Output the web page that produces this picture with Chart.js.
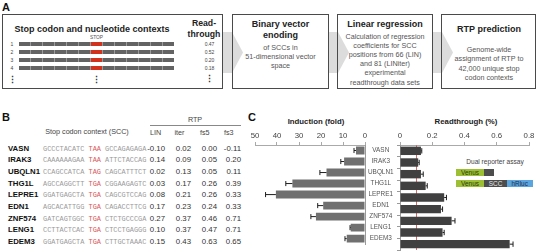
<!DOCTYPE html>
<html>
<head>
<meta charset="utf-8">
<script src="https://cdn.jsdelivr.net/npm/chart.js@4.4.1/dist/chart.umd.min.js"></script>
<style>
  html, body { margin:0; padding:0; background:#fff; }
  #fig { position:relative; width:538px; height:251px; overflow:hidden; font-family:"Liberation Sans", Arial, sans-serif; color:#222; }
  .t { position:absolute; white-space:nowrap; line-height:1; }
  .box { position:absolute; border:1px solid #4a4a4a; box-sizing:border-box; background:transparent; }
  .arrow { position:absolute; background:#dcdcdc; }
  canvas { position:absolute; }
</style>
</head>
<body>
<div id="fig"></div>
<script>
// ---------------- DATA ----------------
const genes = ['VASN','IRAK3','UBQLN1','THG1L','LEPRE1','EDN1','ZNF574','LENG1','EDEM3'];
const sccLeft  = ['GCCCTACATC','CAAAAAAGAA','CCAGCCATCA','AGCCAGGCTT','GGATGAGCTA','AGCACATTGG','GATCAGTGGC','CCTTACTCAC','GGATGAGCTA'];
const stopCodons = ['TAA','TAA','TAG','TGA','TGA','TGA','TGA','TGA','TGA'];
const sccRight = ['GCCAGAGAGA','ATTCTACCAG','CAGCATTTCT','CGGAAGAGTC','CAGCGTCCAG','CAGACCTTCG','CTCTGCCCGA','CTCCTGAGGG','CTTGCTAAAC'];
const rtpLIN  = [-0.10, 0.14, 0.02, 0.03, 0.08, 0.17, 0.27, 0.10, 0.15];
const rtpIter = [ 0.02, 0.09, 0.13, 0.17, 0.21, 0.23, 0.37, 0.37, 0.43];
const rtpFs5  = [ 0.00, 0.05, 0.05, 0.26, 0.26, 0.24, 0.46, 0.47, 0.63];
const rtpFs3  = [-0.11, 0.20, 0.11, 0.39, 0.33, 0.33, 0.71, 0.71, 0.65];
const rtpColumns = ['LIN','iter','fs5','fs3'];

const inductionFold = [4.1, 9.5, 17.5, 33.0, 40.5, 19.0, 22.3, 6.5, 8.3];
const inductionErr  = [0.9, 1.5, 3.0, 3.0, 4.7, 2.5, 2.3, 0.3, 0.8];
const readthroughPct = [0.130, 0.113, 0.130, 0.159, 0.274, 0.254, 0.320, 0.264, 0.680];
const readthroughErr = [0.005, 0.006, 0.014, 0.010, 0.014, 0.010, 0.021, 0.010, 0.021];
const inductionTicks = [0, 10, 20, 30, 40, 50];
const readthroughTicks = [0, 0.2, 0.4, 0.6, 0.8];
const readthroughReference = 0.1;

const exampleReadthrough = ['0.47','0.52','0.20','0.18'];
const contextSegments = 13, stopSegment = 6;

// ---------------- helpers ----------------
const fig = document.getElementById('fig');
function txt(x, y, s, o = {}) {
  const d = document.createElement('div');
  d.className = 't';
  d.textContent = s;
  const a = o.align || 'center';
  const tx = a === 'center' ? '-50%' : (a === 'right' ? '-100%' : '0');
  d.style.left = x + 'px'; d.style.top = y + 'px';
  d.style.transform = `translate(${tx},-50%)`;
  d.style.fontSize = (o.size || 7.3) + 'px';
  if (o.bold) d.style.fontWeight = 'bold';
  d.style.color = o.color || '#222';
  if (o.font) d.style.fontFamily = o.font;
  fig.appendChild(d);
  return d;
}
function rect(cls, x, y, w, h, style = {}) {
  const d = document.createElement('div');
  d.className = cls;
  Object.assign(d.style, { left: x + 'px', top: y + 'px', width: w + 'px', height: h + 'px' }, style);
  fig.appendChild(d);
  return d;
}

// ---------------- Panel A ----------------
[[222, 243], [328, 349], [432, 453]].forEach(([x0, x1]) => {
  rect('arrow', x0, 32, x1 - x0, 41, { clipPath: `polygon(0 0, ${x1 - x0 - 11}px 0, 100% 50%, ${x1 - x0 - 11}px 100%, 0 100%)` });
});
rect('box', 2, 14, 221, 75);
rect('box', 232, 14, 97, 75);
rect('box', 337, 14, 96, 75);
rect('box', 441, 14, 95, 75);

txt(2, 7, 'A', { align: 'left', size: 11, bold: true, color: '#111' });
txt(92, 29, 'Stop codon and nucleotide contexts', { size: 9, bold: true });
txt(96.5, 38, 'STOP', { size: 4.8, color: '#555' });
exampleReadthrough.forEach((v, i) => {
  const y = 44 + i * 8;
  txt(12, y, String(i + 1), { size: 5, color: '#444' });
  const bar = document.createElement('div');
  Object.assign(bar.style, { position: 'absolute', left: '19px', top: (y - 2.2) + 'px', width: '155px', height: '4.5px', display: 'flex', gap: '1px', background: '#9a9a9a' });
  for (let s = 0; s < contextSegments; s++) {
    const seg = document.createElement('div');
    seg.style.flex = '1';
    seg.style.background = s === stopSegment ? '#d0321e' : '#636363';
    bar.appendChild(seg);
  }
  fig.appendChild(bar);
  txt(209.5, y - 0.5, v, { size: 5, color: '#444' });
});
txt(12, 80, '⋮', { size: 9, bold: true, color: '#333' });
txt(96.5, 80, '⋮', { size: 9, bold: true, color: '#333' });
txt(209.5, 79, '⋮', { size: 9, bold: true, color: '#333' });
txt(204, 23, 'Read-', { size: 8.7, bold: true });
txt(204, 33.5, 'through', { size: 8.7, bold: true });

txt(280.5, 23.5, 'Binary vector', { size: 9, bold: true });
txt(280.5, 34.5, 'enoding', { size: 9, bold: true });
['of SCCs in', '51-dimensional vector', 'space'].forEach((s, i) => txt(280.5, 48 + i * 9.2, s, { size: 7.2, color: '#555' }));

txt(385, 24, 'Linear regression', { size: 9, bold: true });
['Calculation of regression', 'coefficients for SCC', 'positions from 66 (LIN)', 'and 81 (LINiter)', 'experimental', 'readthrough data sets']
  .forEach((s, i) => txt(385, 36.5 + i * 9.2, s, { size: 7.2, color: '#555' }));

txt(489, 29, 'RTP prediction', { size: 9, bold: true });
['Genome-wide', 'assignment of RTP to', '42,000 unique stop', 'codon contexts']
  .forEach((s, i) => txt(489, 50 + i * 9.4, s, { size: 7.2, color: '#555' }));

// ---------------- Panel B ----------------
txt(2, 117, 'B', { align: 'left', size: 11, bold: true, color: '#111' });
txt(87, 132, 'Stop codon context (SCC)', { size: 7.2, color: '#444' });
txt(195, 119.5, 'RTP', { size: 7.2, color: '#444' });
rect('t', 150, 124.5, 91, 0, { borderTop: '1px solid #888' });
const headerX = [150, 174.5, 200, 224];
rtpColumns.forEach((c, i) => txt(headerX[i], 132.5, c, { align: 'left', size: 7.2, color: '#444' }));
const colRight = [165, 191, 217, 241];
const rtpData = [rtpLIN, rtpIter, rtpFs5, rtpFs3];
genes.forEach((g, i) => {
  const y = 148.5 + i * 11.67;
  txt(8, y, g, { align: 'left', size: 7.8, bold: true, color: '#111' });
  const seq = document.createElement('div');
  seq.className = 't';
  Object.assign(seq.style, { left: '43px', top: y + 'px', transform: 'translate(0,-50%)', fontSize: '6.9px', fontFamily: '"Liberation Mono", monospace', color: '#9a9a9a' });
  seq.innerHTML = `${sccLeft[i]} <span style="color:#d8575a">${stopCodons[i]}</span> ${sccRight[i]}`;
  fig.appendChild(seq);
  rtpData.forEach((arr, k) => txt(colRight[k], y, arr[i].toFixed(2), { align: 'right', size: 7.8, color: '#333' }));
});

// ---------------- Panel C ----------------
txt(248, 117, 'C', { align: 'left', size: 11, bold: true, color: '#111' });
txt(316, 122, 'Induction (fold)', { size: 7.8, bold: true });
txt(466, 122, 'Readthrough (%)', { size: 7.8, bold: true });

txt(495, 162, 'Dual reporter assay', { size: 6.6, color: '#444' });
rect('t', 456, 169, 28, 7, { background: '#9cbf33' });
rect('t', 484, 169, 10, 7, { background: '#4d4d4d' });
txt(470, 172.5, 'Venus', { size: 6.4, color: '#2b3a10' });
rect('t', 456, 180, 28, 7.3, { background: '#9cbf33' });
rect('t', 484, 180, 23, 7.3, { background: '#4d4d4d' });
rect('t', 507, 180, 25.5, 7.3, { background: '#5aa5e0' });
txt(470, 183.7, 'Venus', { size: 6.4, color: '#2b3a10' });
txt(495.5, 183.7, 'SCC', { size: 6.4, color: '#e8e8e8' });
txt(519.7, 183.7, 'hRluc', { size: 6.4, color: '#1d2f4a' });

Chart.defaults.font.family = '"Liberation Sans", Arial, sans-serif';

const errorBarPlugin = {
  id: 'errorBars',
  afterDatasetsDraw(chart) {
    const ctx = chart.ctx, xs = chart.scales.x;
    chart.data.datasets.forEach((ds, di) => {
      if (!ds.errors) return;
      const meta = chart.getDatasetMeta(di);
      meta.data.forEach((el, j) => {
        const v = ds.data[j], e = ds.errors[j];
        const x0 = xs.getPixelForValue(v), x1 = xs.getPixelForValue(v + e);
        const cap = el.height * 0.32;
        ctx.save();
        ctx.strokeStyle = '#1e1e1e';
        ctx.lineWidth = 1;
        ctx.beginPath();
        ctx.moveTo(x0, el.y); ctx.lineTo(x1, el.y);
        ctx.moveTo(x1, el.y - cap); ctx.lineTo(x1, el.y + cap);
        ctx.stroke();
        ctx.restore();
      });
    });
  }
};
const refLinePlugin = {
  id: 'refLine',
  beforeDatasetsDraw(chart, args, opts) {
    if (opts.value === undefined) return;
    const { ctx, chartArea } = chart;
    const x = Math.round(chart.scales.x.getPixelForValue(opts.value)) + 0.5;
    ctx.save();
    ctx.strokeStyle = '#d46a6a';
    ctx.lineWidth = 1;
    ctx.beginPath();
    ctx.moveTo(x, chartArea.top); ctx.lineTo(x, chartArea.bottom);
    ctx.stroke();
    ctx.restore();
  }
};

function makeCanvas(x, y, w, h) {
  const c = document.createElement('canvas');
  c.width = w; c.height = h;
  c.style.left = x + 'px'; c.style.top = y + 'px';
  c.style.width = w + 'px'; c.style.height = h + 'px';
  fig.appendChild(c);
  return c;
}

// left: induction
new Chart(makeCanvas(248, 115, 152, 136), {
  type: 'bar',
  data: { labels: genes, datasets: [{ data: inductionFold, errors: inductionErr, backgroundColor: '#707070', barPercentage: 0.72, categoryPercentage: 1 }] },
  options: {
    indexAxis: 'y', responsive: false, animation: false, devicePixelRatio: 1,
    layout: { padding: { left: 7, right: 0, top: 0, bottom: 1 } },
    plugins: { legend: { display: false }, tooltip: { enabled: false } },
    scales: {
      x: {
        position: 'top', reverse: true, min: 0, max: 50,
        afterBuildTicks: s => { s.ticks = inductionTicks.map(v => ({ value: v })); },
        grid: { drawOnChartArea: false, tickLength: 3, color: '#aaa' },
        border: { color: '#aaa' },
        ticks: { font: { size: 7.8 }, color: '#444', padding: 1 },
        afterFit: s => { s.height = 30; }
      },
      y: {
        position: 'right',
        grid: { display: false, drawTicks: false },
        border: { color: '#9a9a9a' },
        ticks: { font: { size: 6.4 }, color: '#555', crossAlign: 'center', padding: 3, autoSkip: false },
        afterFit: s => { s.width = 35; }
      }
    }
  },
  plugins: [errorBarPlugin]
});

// right: readthrough
new Chart(makeCanvas(392, 115, 146, 136), {
  type: 'bar',
  data: { labels: genes, datasets: [{ data: readthroughPct, errors: readthroughErr, backgroundColor: '#404040', barPercentage: 0.72, categoryPercentage: 1 }] },
  options: {
    indexAxis: 'y', responsive: false, animation: false, devicePixelRatio: 1,
    layout: { padding: { left: 0, right: 9, top: 0, bottom: 1 } },
    plugins: { legend: { display: false }, tooltip: { enabled: false }, refLine: { value: readthroughReference } },
    scales: {
      x: {
        position: 'top', min: 0, max: 0.8,
        afterBuildTicks: s => { s.ticks = readthroughTicks.map(v => ({ value: v })); },
        grid: { drawOnChartArea: false, tickLength: 3, color: '#aaa' },
        border: { color: '#aaa' },
        ticks: { font: { size: 7.8 }, color: '#444', padding: 1, callback: v => v === 0 ? '0' : v.toFixed(1) },
        afterFit: s => { s.height = 30; }
      },
      y: {
        position: 'left',
        grid: { drawOnChartArea: false, tickLength: 3, color: '#9a9a9a' },
        border: { color: '#9a9a9a' },
        ticks: { display: false, autoSkip: false },
        afterFit: s => { s.width = 8; }
      }
    }
  },
  plugins: [errorBarPlugin, refLinePlugin]
});
</script>
</body>
</html>
